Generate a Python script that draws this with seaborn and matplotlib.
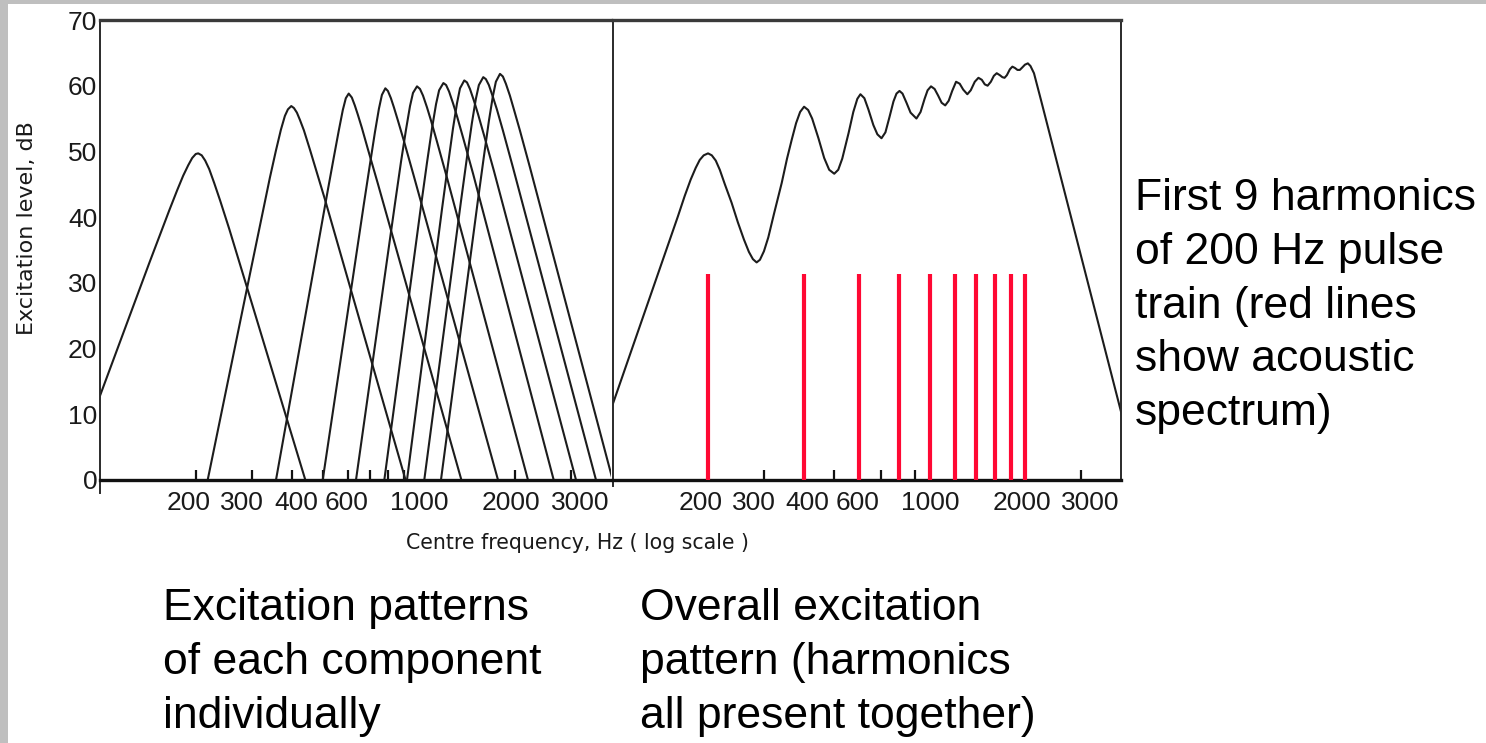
import matplotlib
matplotlib.use("Agg")
import matplotlib.pyplot as plt
import pandas as pd
import seaborn as sns
from matplotlib.patches import Rectangle
from matplotlib.ticker import FixedLocator, FixedFormatter, NullFormatter

# ---- data -------------------------------------------------------------
# Excitation pattern of each harmonic on its own (centre frequency Hz, level dB)
h200_freq = [80.0, 100.0, 142.7, 164.8, 174.6, 182.3, 189.1, 194.6, 199.6, 203.2,
             208.4, 213.7, 220.0, 228.0, 238.1, 254.2, 293.6, 440.2]
h200_level = [0, 12.8, 33.0, 41.0, 44.1, 46.3, 47.9, 49.0, 49.6, 49.7,
              49.4, 48.6, 47.3, 45.2, 42.5, 38.2, 28.2, 0]

h400_freq = [217.6, 295.1, 340.9, 356.0, 369.1, 379.9, 388.3, 397.8, 405.5, 414.3,
             423.4, 435.8, 455.0, 507.2, 907.5]
h400_level = [0, 31.3, 46.0, 50.1, 53.3, 55.4, 56.4, 56.9, 56.6, 55.9,
              54.8, 53.2, 50.3, 42.7, 0]

h600_freq = [356.3, 517.9, 540.8, 560.7, 577.1, 589.8, 602.2, 615.9, 629.3, 643.1,
             662.1, 691.1, 743.1, 1358.1]
h600_level = [0, 44.1, 49.1, 53.2, 56.3, 58.1, 58.8, 58.2, 57.0, 55.6,
              53.6, 50.4, 45.1, 0]

h800_freq = [499.2, 671.9, 701.8, 727.6, 749.0, 765.3, 784.5, 799.1, 816.6, 834.6,
             859.0, 897.0, 964.1, 1769.0]
h800_level = [0, 42.0, 48.0, 52.9, 56.5, 58.6, 59.6, 59.2, 58.1, 56.7,
              54.7, 51.6, 46.2, 0]

h1000_freq = [634.8, 841.3, 878.3, 910.6, 937.4, 957.8, 986.0, 1007.4, 1029.5, 1059.7,
              1090.7, 1138.7, 1224.1, 2196.6]
h1000_level = [0, 42.1, 48.4, 53.3, 56.9, 58.9, 59.9, 59.5, 58.5, 56.7,
               54.7, 51.5, 46.0, 0]

h1200_freq = [778.8, 1015.5, 1060.5, 1099.5, 1131.3, 1156.5, 1192.7, 1216.4, 1243.0, 1279.2,
              1316.9, 1374.9, 1477.9, 2644.4]
h1200_level = [0, 41.8, 48.4, 53.6, 57.2, 59.3, 60.4, 60.1, 59.1, 57.3,
               55.3, 52.1, 46.6, 0]

h1400_freq = [917.3, 1180.7, 1233.2, 1278.5, 1315.7, 1344.8, 1386.8, 1414.3, 1445.2, 1487.5,
              1531.2, 1598.7, 1718.6, 3106.6]
h1400_level = [0, 41.2, 48.0, 53.5, 57.3, 59.6, 60.8, 60.5, 59.5, 57.7,
               55.7, 52.5, 47.0, 0]

h1600_freq = [1039.2, 1353.3, 1413.3, 1465.2, 1508.0, 1541.1, 1590.7, 1620.9, 1656.4, 1705.0,
              1754.9, 1832.6, 1969.9, 3588.8]
h1600_level = [0, 42.3, 49.0, 54.3, 58.0, 60.1, 61.3, 61.0, 60.1, 58.3,
               56.4, 53.2, 47.6, 0]

h1800_freq = [1172.3, 1529.9, 1597.7, 1656.3, 1705.0, 1742.3, 1794.7, 1832.6, 1872.8, 1927.7,
              1984.2, 2072.0, 2227.1, 4048.0]
h1800_level = [0, 42.5, 49.2, 54.6, 58.4, 60.6, 61.8, 61.4, 60.3, 58.5,
               56.4, 53.2, 47.6, 0]

# Overall excitation pattern with all harmonics present together
overall_freq = [90.9, 100, 160.7, 168.8, 176.3, 182.9, 188.3, 193.8, 200, 205.5,
                211.5, 217.8, 225.9, 237.2, 248.3, 259.4, 269.0, 276.9, 284.5, 291.4,
                300.0, 309.6, 322.7, 341.3, 354.7, 367.1, 378.8, 390.0, 401.4, 413.4,
                425.6, 445.5, 464.4, 481.6, 499.6, 514.3, 529.5, 554.4, 573.7, 590.7,
                604.1, 621.6, 639.9, 663.6, 683.1, 703.9, 724.2, 745.6, 767.7, 784.8,
                802.0, 819.7, 843.9, 869.0, 907.0, 934.5, 962.2, 983.4, 1008, 1034.7,
                1061.4, 1088.9, 1117.5, 1145.9, 1175.4, 1209, 1241.4, 1273.4, 1312, 1344.9,
                1384.7, 1422, 1457.0, 1489.2, 1520, 1556.0, 1590.3, 1623.7, 1660.9, 1691.4,
                1718.6, 1747.8, 1786.5, 1819, 1853.1, 1887.2, 1920, 1956.7, 1992.7, 2035,
                2074.1, 2127.6, 2239, 4009, 4313]
overall_level = [6.4, 11.4, 40.1, 43.2, 45.7, 47.5, 48.7, 49.4, 49.7, 49.4,
                 48.6, 47.2, 45.0, 42.2, 39.2, 36.6, 34.7, 33.6, 33.1, 33.5,
                 34.8, 36.9, 40.5, 45.2, 48.9, 51.8, 54.3, 56.0, 56.8, 56.3,
                 55.0, 52.0, 49.0, 47.2, 46.6, 47.2, 48.9, 52.8, 56.0, 58.0,
                 58.7, 58.1, 56.4, 54.0, 52.6, 52.0, 52.9, 55.2, 57.6, 58.8,
                 59.2, 58.8, 57.4, 55.9, 55.0, 56.0, 58.0, 59.3, 59.9, 59.5,
                 58.5, 57.4, 57.0, 57.7, 59.2, 60.6, 60.3, 59.4, 58.7, 59.3,
                 60.6, 61.2, 60.9, 60.2, 60.0, 60.6, 61.5, 61.9, 61.6, 61.3,
                 61.2, 61.6, 62.5, 62.9, 62.7, 62.4, 62.4, 62.8, 63.2, 63.4,
                 63.0, 61.9, 57.8, 10.2, 4.4]

# Acoustic spectrum (red lines)
spectrum_freq = [200, 400, 600, 800, 1000, 1200, 1400, 1600, 1800, 2000]
spectrum_level = [31.3] * 10

# Axis ticks and the hand-set tick-label positions
x_tick_marks = [200, 300, 400, 500, 600, 700, 800, 900, 1000, 2000, 3000]
x_label_pos = [190, 279, 412, 591, 1000, 1943, 3204]
x_label_text = ["200", "300", "400", "600", "1000", "2000", "3000"]
y_ticks = [0, 10, 20, 30, 40, 50, 60, 70]

# ---- long table for seaborn --------------------------------------------
patterns = {
    200: (h200_freq, h200_level), 400: (h400_freq, h400_level),
    600: (h600_freq, h600_level), 800: (h800_freq, h800_level),
    1000: (h1000_freq, h1000_level), 1200: (h1200_freq, h1200_level),
    1400: (h1400_freq, h1400_level), 1600: (h1600_freq, h1600_level),
    1800: (h1800_freq, h1800_level),
}
rows = []
for harm, (fr, lv) in patterns.items():
    for f, l in zip(fr, lv):
        rows.append({"harmonic": harm, "freq": f, "level": l})
df_single = pd.DataFrame(rows)
df_overall = pd.DataFrame({"freq": overall_freq, "level": overall_level})

# ---- figure -------------------------------------------------------------
sns.set_theme(style="white")
plt.rcParams["font.family"] = ["DejaVu Sans"]

W, H = 1486, 743
fig = plt.figure(figsize=(W / 100, H / 100), dpi=100)
fig.patch.set_facecolor("white")


def px_box(x0, x1, y_top, y_bot):
    return [x0 / W, 1 - y_bot / H, (x1 - x0) / W, (y_bot - y_top) / H]


ax1 = fig.add_axes(px_box(100, 611, 20, 493))
ax2 = fig.add_axes(px_box(612.5, 1121, 20, 493))

ink = "#1c1c1c"
sns.lineplot(data=df_single, x="freq", y="level", units="harmonic", estimator=None,
             sort=False, color=ink, lw=1.5, ax=ax1, legend=False)
sns.lineplot(data=df_overall, x="freq", y="level", estimator=None, sort=False,
             color=ink, lw=1.5, ax=ax2, legend=False)
ax2.vlines(spectrum_freq, 0, spectrum_level, color="#ff0833", lw=3.0, zorder=3)

tick_font = ["Liberation Sans", "DejaVu Sans"]
for ax in (ax1, ax2):
    ax.set_facecolor("white")
    ax.set_xscale("log")
    ax.set_xlim(100, 4000)
    ax.set_ylim(-2, 70)
    ax.set_xlabel("")
    ax.set_ylabel("")
    ax.grid(False)
    # labels sit on major ticks (no mark), the marks are minor ticks
    ax.xaxis.set_major_locator(FixedLocator(x_label_pos))
    ax.xaxis.set_major_formatter(FixedFormatter(x_label_text))
    ax.xaxis.set_minor_locator(FixedLocator(x_tick_marks))
    ax.xaxis.set_minor_formatter(NullFormatter())
    ax.set_yticks(y_ticks)
    ax.spines["bottom"].set_position(("data", 0))
    ax.spines["bottom"].set_linewidth(2.4)
    ax.spines["bottom"].set_color("#111111")
    ax.spines["top"].set_linewidth(2.4)
    ax.spines["top"].set_color("#3a3a3a")
    ax.spines["left"].set_linewidth(1.4)
    ax.spines["left"].set_color("#2a2a2a")
    ax.spines["right"].set_linewidth(1.4)
    ax.spines["right"].set_color("#2a2a2a")
    ax.tick_params(axis="x", which="major", direction="in", length=0, pad=8,
                   labelsize=19, labelcolor="#1a1a1a", bottom=True, top=False)
    ax.tick_params(axis="x", which="minor", direction="in", length=7, width=1.6,
                   color="#111111", bottom=True, top=False)
    ax.tick_params(axis="y", which="major", direction="in", length=7, width=1.2,
                   color="#2a2a2a", pad=2, labelsize=19, labelcolor="#1a1a1a")
    for lab in ax.get_xticklabels() + ax.get_yticklabels():
        lab.set_family(tick_font)

ax1.spines["right"].set_visible(False)
ax2.spines["left"].set_bounds(-0.9, 70)
ax2.spines["right"].set_bounds(0, 70)
ax2.tick_params(axis="y", labelleft=False)

fig.text(27 / W, 1 - 228 / H, "Excitation level, dB", rotation=90, ha="center",
         va="center", fontsize=16, color="#1a1a1a")
fig.text(578 / W, 1 - 543 / H, "Centre frequency, Hz ( log scale )", ha="center",
         va="center", fontsize=14.8, color="#1a1a1a")

note_font = ["Liberation Sans", "DejaVu Sans"]
fig.text(1135 / W, 1 - 178 / H,
         "First 9 harmonics\nof 200 Hz pulse\ntrain (red lines\nshow acoustic\nspectrum)",
         ha="left", va="top", fontsize=32, family=note_font, linespacing=1.40, color="black")
fig.text(163 / W, 1 - 588 / H, "Excitation patterns\nof each component\nindividually",
         ha="left", va="top", fontsize=32, family=note_font, linespacing=1.41, color="black")
fig.text(640 / W, 1 - 588 / H, "Overall excitation\npattern (harmonics\nall present together)",
         ha="left", va="top", fontsize=32, family=note_font, linespacing=1.41, color="black")

# grey page margin on the left and top
fig.add_artist(Rectangle((0, 0), 8 / W, 1, transform=fig.transFigure,
                         facecolor="#bfbfbf", edgecolor="none", zorder=10))
fig.add_artist(Rectangle((0, 1 - 4 / H), 1, 4 / H, transform=fig.transFigure,
                         facecolor="#bfbfbf", edgecolor="none", zorder=10))

fig.savefig("out.png", dpi=100, facecolor="white")
